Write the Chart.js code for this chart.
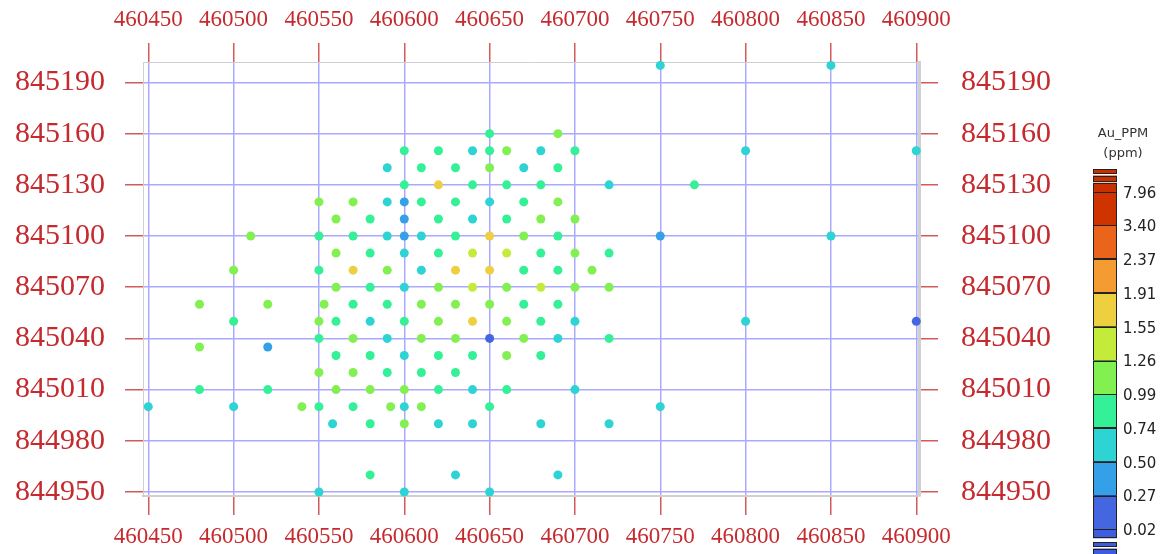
<!DOCTYPE html>
<html>
<head>
<meta charset="utf-8">
<script src="https://cdn.jsdelivr.net/npm/chart.js@4.4.1/dist/chart.umd.min.js"></script>
<style>
    html, body { margin: 0; padding: 0; background: #ffffff; }
    canvas { display: block; }
</style>
</head>
<body>
<canvas id="auMap" width="1167" height="554"></canvas>
<script>
// =================== data =======================
const xTicks = [460450, 460500, 460550, 460600, 460650, 460700, 460750, 460800, 460850, 460900];
const yTicks = [844950, 844980, 845010, 845040, 845070, 845100, 845130, 845160, 845190];

// sample easting, one line per northing row
const sampleX = [
    460750, 460850,
    460650, 460690,
    460600, 460620, 460640, 460650, 460660, 460680, 460700, 460800, 460900,
    460590, 460610, 460630, 460650, 460670, 460690,
    460600, 460620, 460640, 460660, 460680, 460720, 460770,
    460550, 460570, 460590, 460600, 460610, 460630, 460650, 460670, 460690,
    460560, 460580, 460600, 460620, 460640, 460660, 460680, 460700,
    460510, 460550, 460570, 460590, 460600, 460610, 460630, 460650, 460670, 460690, 460750, 460850,
    460560, 460580, 460600, 460620, 460640, 460660, 460680, 460700, 460720,
    460500, 460550, 460570, 460590, 460610, 460630, 460650, 460670, 460690, 460710,
    460560, 460580, 460600, 460620, 460640, 460660, 460680, 460700, 460720,
    460480, 460520, 460553, 460570, 460590, 460610, 460630, 460650, 460670, 460690,
    460500, 460550, 460560, 460580, 460600, 460620, 460640, 460660, 460680, 460700, 460800, 460900,
    460550, 460570, 460590, 460610, 460630, 460650, 460670, 460690, 460720,
    460480, 460520,
    460560, 460580, 460600, 460620, 460640, 460660, 460680,
    460550, 460570, 460590, 460610, 460630,
    460480, 460520, 460560, 460580, 460600, 460620, 460640, 460660, 460700,
    460450, 460500, 460540, 460550, 460570, 460592, 460600, 460610, 460650, 460750,
    460558, 460580, 460600, 460620, 460640, 460680, 460720,
    460580, 460630, 460690,
    460550, 460600, 460650
];

// sample northing, same order
const sampleY = [
    845200, 845200,
    845160, 845160,
    845150, 845150, 845150, 845150, 845150, 845150, 845150, 845150, 845150,
    845140, 845140, 845140, 845140, 845140, 845140,
    845130, 845130, 845130, 845130, 845130, 845130, 845130,
    845120, 845120, 845120, 845120, 845120, 845120, 845120, 845120, 845120,
    845110, 845110, 845110, 845110, 845110, 845110, 845110, 845110,
    845100, 845100, 845100, 845100, 845100, 845100, 845100, 845100, 845100, 845100, 845100, 845100,
    845090, 845090, 845090, 845090, 845090, 845090, 845090, 845090, 845090,
    845080, 845080, 845080, 845080, 845080, 845080, 845080, 845080, 845080, 845080,
    845070, 845070, 845070, 845070, 845070, 845070, 845070, 845070, 845070,
    845060, 845060, 845060, 845060, 845060, 845060, 845060, 845060, 845060, 845060,
    845050, 845050, 845050, 845050, 845050, 845050, 845050, 845050, 845050, 845050, 845050, 845050,
    845040, 845040, 845040, 845040, 845040, 845040, 845040, 845040, 845040,
    845035, 845035,
    845030, 845030, 845030, 845030, 845030, 845030, 845030,
    845020, 845020, 845020, 845020, 845020,
    845010, 845010, 845010, 845010, 845010, 845010, 845010, 845010, 845010,
    845000, 845000, 845000, 845000, 845000, 845000, 845000, 845000, 845000, 845000,
    844990, 844990, 844990, 844990, 844990, 844990, 844990,
    844960, 844960, 844960,
    844950, 844950, 844950
];

// Au grade (ppm), estimated from the class colour of each dot
const auPPM = [
    0.62, 0.62,
    0.86, 1.12,
    0.86, 0.86, 0.62, 0.86, 1.12, 0.62, 0.86, 0.62, 0.62,
    0.62, 0.86, 0.86, 1.12, 0.62, 0.86,
    0.86, 1.72, 0.86, 0.86, 0.86, 0.62, 0.86,
    1.12, 1.12, 0.62, 0.40, 0.86, 0.86, 0.62, 0.86, 1.12,
    1.12, 0.86, 0.40, 0.86, 0.62, 0.86, 1.12, 1.12,
    1.12, 0.86, 0.86, 0.62, 0.40, 0.62, 0.86, 1.72, 1.12, 0.86, 0.40, 0.62,
    1.12, 0.86, 0.62, 0.86, 1.40, 1.40, 0.86, 1.12, 0.86,
    1.12, 0.86, 1.72, 1.12, 0.62, 1.72, 1.72, 0.86, 0.86, 1.12,
    1.12, 0.86, 0.62, 1.12, 1.40, 1.12, 1.40, 1.12, 1.12,
    1.12, 1.12, 1.12, 0.86, 0.86, 1.12, 1.12, 1.12, 0.86, 0.86,
    0.86, 1.12, 0.86, 0.62, 0.86, 1.12, 1.72, 1.12, 0.86, 0.62, 0.62, 0.15,
    0.86, 1.12, 0.62, 1.12, 1.12, 0.15, 1.12, 0.62, 0.86,
    1.12, 0.40,
    0.86, 0.86, 0.62, 0.86, 0.86, 1.12, 0.86,
    1.12, 1.12, 0.86, 0.86, 0.86,
    0.86, 0.86, 1.12, 1.12, 1.12, 0.86, 0.62, 0.86, 0.62,
    0.62, 0.62, 1.12, 0.86, 0.86, 1.12, 0.62, 1.12, 0.86, 0.62,
    0.62, 0.86, 1.12, 0.62, 0.62, 0.62, 0.62,
    0.86, 0.62, 0.62,
    0.62, 0.62, 0.62
];

// legend classes, low to high
const classBreaks = [0.02, 0.27, 0.50, 0.74, 0.99, 1.26, 1.55, 1.91, 2.37, 3.40, 7.96];
const classColors = [
    '#3f5cdc', '#4466e0', '#34a0e8', '#2ed3d3', '#34f096', '#82f050',
    '#c4ea3a', '#eecf40', '#f49c32', '#eb641c', '#cf3300', '#c83000'
];
// =================== END DATA ===================

function colorFor(v) {
    let k = 0;
    while (k < classBreaks.length && v >= classBreaks[k]) k++;
    return classColors[k];
}

const labelRed = '#c42a2e';
const tickRed = '#d45a5a';
const gridBlue = '#a9a9ff';

// colour bar on the right hand side
const colorBar = {
    id: 'colorBar',
    afterDraw(chart) {
        const c = chart.ctx;
        const x0 = 1093, w = 24;
        const top = 191.7, step = 33.76;
        const n = classBreaks.length;
        c.save();

        c.fillStyle = '#333333';
        c.font = '13px "DejaVu Sans"';
        c.textAlign = 'center';
        c.textBaseline = 'middle';
        c.fillText('Au_PPM', 1123, 134);
        c.fillText('(ppm)', 1123, 154);

        function box(y1, y2, col) {
            c.fillStyle = col;
            c.fillRect(x0, y1, w, y2 - y1);
            c.strokeStyle = '#222222';
            c.lineWidth = 1;
            c.strokeRect(x0 + 0.5, Math.round(y1) + 0.5, w - 1, Math.round(y2 - y1) - 1);
        }

        // end stripes
        box(169, 174, classColors[n]);
        box(175.5, 181, classColors[n]);
        box(542, 547, classColors[0]);
        box(548.5, 554, classColors[0]);

        // caps
        box(182.7, top + 0.5, classColors[n]);
        box(top + (n - 1) * step, top + (n - 1) * step + 9, classColors[0]);

        for (let k = 0; k < n - 1; k++) {
            const y1 = top + k * step;
            box(y1, y1 + step + 0.5, classColors[n - 1 - k]);
        }

        c.fillStyle = '#222222';
        c.font = '15px "DejaVu Sans"';
        c.textAlign = 'left';
        for (let k = 0; k < n; k++) {
            c.fillText(classBreaks[n - 1 - k].toFixed(2), 1123, top + k * step + 2);
        }
        c.restore();
    }
};

function axisX(position, size, onArea) {
    return {
        type: 'linear',
        position: position,
        min: 460446.9,
        max: 460901.6,
        afterBuildTicks: s => { s.ticks = xTicks.map(v => ({ value: v })); },
        afterFit: s => { s.height = size; },
        grid: {
            drawOnChartArea: onArea,
            color: gridBlue,
            lineWidth: 1.5,
            tickColor: tickRed,
            tickLength: 19,
            tickWidth: 1.5
        },
        border: { color: '#d0d0d0', width: position === 'bottom' ? 2 : 1 },
        ticks: {
            color: labelRed,
            font: { family: '"Liberation Serif"', size: 23 },
            padding: position === 'bottom' ? 8 : 9,
            maxRotation: 0,
            autoSkip: false,
            callback: v => String(v)
        }
    };
}

function axisY(position, size, onArea) {
    return {
        type: 'linear',
        position: position,
        min: 844947.65,
        max: 845202,
        afterBuildTicks: s => { s.ticks = yTicks.map(v => ({ value: v })); },
        afterFit: s => { s.width = size; },
        grid: {
            drawOnChartArea: onArea,
            color: gridBlue,
            lineWidth: 1.5,
            tickColor: tickRed,
            tickLength: position === 'left' ? 18 : 19,
            tickWidth: 1.5
        },
        border: { color: '#d0d0d0', width: position === 'right' ? 3 : 1 },
        ticks: {
            color: labelRed,
            font: { family: '"Liberation Serif"', size: 30 },
            padding: position === 'left' ? 20 : 23,
            autoSkip: false,
            callback: v => String(v)
        }
    };
}

const ctx = document.getElementById('auMap');
const myChart = new Chart(ctx, {
    type: 'scatter',
    data: {
        datasets: [{
            label: 'Au_PPM',
            data: sampleX.map((x, i) => ({ x: x, y: sampleY[i] })),
            pointBackgroundColor: auPPM.map(colorFor),
            pointBorderColor: auPPM.map(colorFor),
            pointBorderWidth: 0,
            pointRadius: 4.5,
            clip: false
        }]
    },
    options: {
        responsive: false,
        animation: false,
        layout: { padding: 0 },
        plugins: {
            legend: { display: false },
            tooltip: { enabled: false }
        },
        scales: {
            x: axisX('bottom', 58, true),
            x2: axisX('top', 62, false),
            y: axisY('left', 143, true),
            y2: axisY('right', 248, false)
        }
    },
    plugins: [colorBar]
});
</script>
</body>
</html>
